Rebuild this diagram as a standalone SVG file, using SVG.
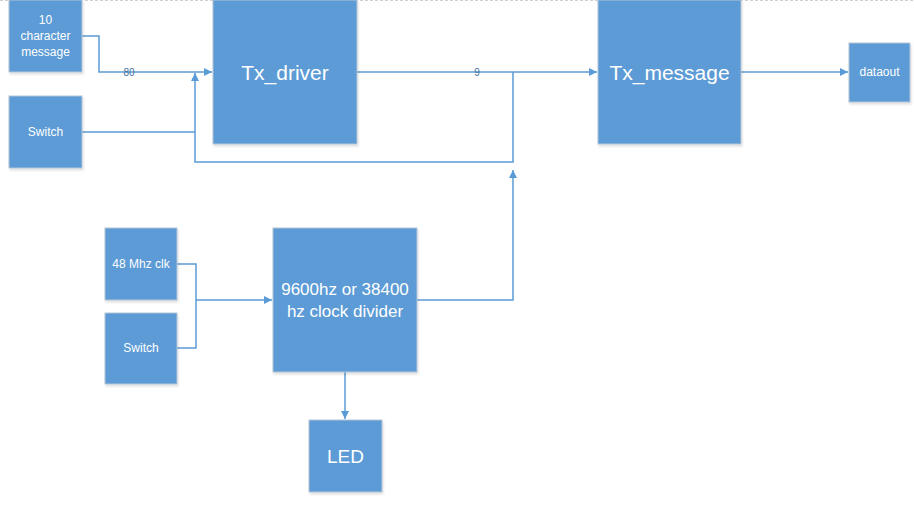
<svg xmlns="http://www.w3.org/2000/svg" width="914" height="511" viewBox="0 0 914 511">
<defs>
<marker id="arr" viewBox="0 0 10 10" refX="10" refY="5" markerWidth="8" markerHeight="8" markerUnits="userSpaceOnUse" orient="auto">
<path d="M0,0 L10,5 L0,10 z" fill="#5b9bd5"/>
</marker>
<filter id="sh" x="-10%" y="-10%" width="130%" height="130%">
<feDropShadow dx="1" dy="2" stdDeviation="1.2" flood-color="#000" flood-opacity="0.12"/>
</filter>
</defs>
<style>
.box{fill:#5b9bd5;stroke:#b4c4d6;stroke-width:1;filter:url(#sh)}
.t{font-family:"Liberation Sans",Arial,sans-serif;fill:#ffffff;text-anchor:middle;dominant-baseline:central}
.s{font-size:12px}
.b{font-size:21px}
.c{fill:none;stroke:#5b9bd5;stroke-width:1.5}
.lbl{font-family:"Liberation Sans",Arial,sans-serif;font-size:10px;fill:#41719c;text-anchor:middle;dominant-baseline:central}
</style>
<rect width="914" height="511" fill="#ffffff"/>
<line x1="0" y1="0.5" x2="914" y2="0.5" stroke="#d0d0d0" stroke-dasharray="3,2"/>
<g id="connectors">
<path class="c" d="M82,36 H99 V72 H212" marker-end="url(#arr)"/>
<path class="c" d="M82,132 H195"/>
<path class="c" d="M513,72 V162 H195 V73" marker-end="url(#arr)"/>
<path class="c" d="M357,72 H597" marker-end="url(#arr)"/>
<path class="c" d="M741,72 H848" marker-end="url(#arr)"/>
<path class="c" d="M417,300 H513 V170" marker-end="url(#arr)"/>
<path class="c" d="M177,264 H196 V348 H177"/>
<path class="c" d="M196,300 H272" marker-end="url(#arr)"/>
<path class="c" d="M345,372 V419" marker-end="url(#arr)"/>
<text class="lbl" x="129" y="72">80</text>
<text class="lbl" x="477" y="72">9</text>
</g>
<g id="msg">
<rect class="box" x="9" y="0" width="73" height="72"/>
<text class="t s" x="45.5" y="20">10</text>
<text class="t s" x="45.5" y="36">character</text>
<text class="t s" x="45.5" y="52">message</text>
</g>
<g id="switch1">
<rect class="box" x="9" y="96" width="73" height="72"/>
<text class="t s" x="45.5" y="132">Switch</text>
</g>
<g id="txdriver">
<rect class="box" x="213" y="0" width="144" height="144"/>
<text class="t b" x="285" y="72">Tx_driver</text>
</g>
<g id="txmessage">
<rect class="box" x="598" y="0" width="143" height="144"/>
<text class="t b" x="669.5" y="72">Tx_message</text>
</g>
<g id="dataout">
<rect class="box" x="849" y="43" width="61" height="59"/>
<text class="t s" x="879.5" y="72">dataout</text>
</g>
<g id="clk">
<rect class="box" x="105" y="228" width="72" height="72"/>
<text class="t s" x="141" y="264">48 Mhz clk</text>
</g>
<g id="switch2">
<rect class="box" x="105" y="313" width="72" height="71"/>
<text class="t s" x="141" y="348">Switch</text>
</g>
<g id="divider">
<rect class="box" x="273" y="228" width="144" height="144"/>
<text class="t" style="font-size:17px" x="345" y="289">9600hz or 38400</text>
<text class="t" style="font-size:17px" x="345" y="311">hz clock divider</text>
</g>
<g id="led">
<rect class="box" x="309" y="420" width="73" height="72"/>
<text class="t" style="font-size:19px" x="345.5" y="456">LED</text>
</g>
</svg>
